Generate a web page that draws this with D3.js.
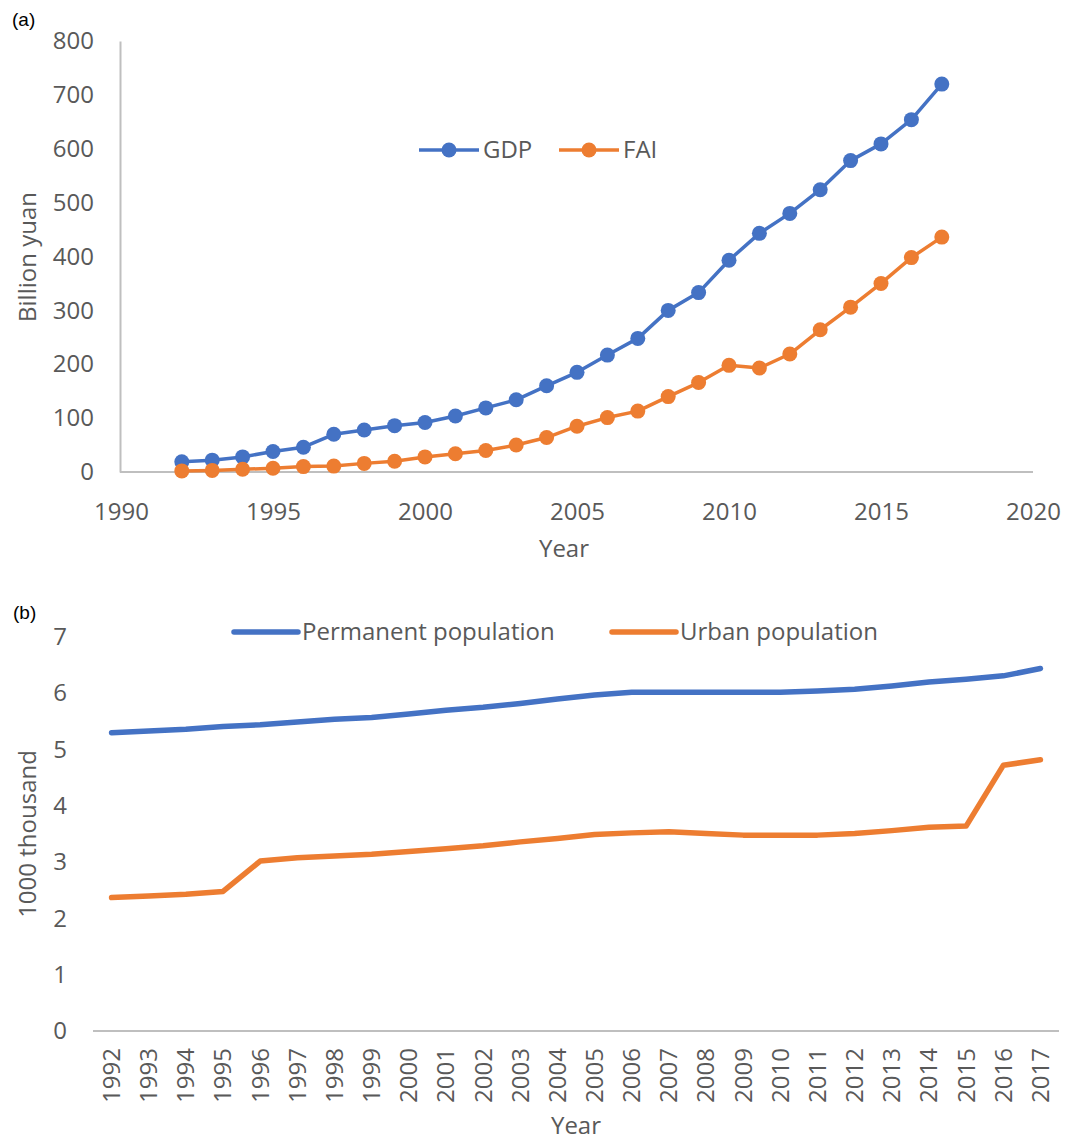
<!DOCTYPE html>
<html>
<head>
<meta charset="utf-8">
<script src="https://cdn.jsdelivr.net/npm/d3@7"></script>
<style>
  body { margin: 0; background: #fff; }
  text { font-family: "Open Sans", sans-serif; }
</style>
</head>
<body>
<div id="chart"></div>
<script>
// panel (a)
var yearsA = d3.range(1992, 2018);
var gdp = [19, 22, 28, 38, 46, 70, 78, 86, 92, 104, 119, 134, 160, 185, 217, 248, 300, 333, 393, 443, 480, 524, 578, 609, 654, 720];
var fai = [2, 3, 5, 7, 10, 11, 16, 20, 28, 34, 40, 50, 64, 85, 101, 113, 140, 166, 198, 193, 219, 264, 306, 350, 398, 436];
var xTicksA = [1990, 1995, 2000, 2005, 2010, 2015, 2020];
var yTicksA = [0, 100, 200, 300, 400, 500, 600, 700, 800];

// panel (b)
var yearsB = ['1992', '1993', '1994', '1995', '1996', '1997', '1998', '1999', '2000', '2001', '2002', '2003', '2004',
    '2005', '2006', '2007', '2008', '2009', '2010', '2011', '2012', '2013', '2014', '2015', '2016', '2017'];
var permanent = [5.30, 5.33, 5.36, 5.41, 5.44, 5.49, 5.54, 5.57, 5.63, 5.70, 5.75, 5.82, 5.90,
    5.97, 6.02, 6.02, 6.02, 6.02, 6.02, 6.04, 6.07, 6.13, 6.20, 6.25, 6.31, 6.44];
var urban = [2.37, 2.40, 2.43, 2.48, 3.02, 3.08, 3.11, 3.14, 3.19, 3.24, 3.29, 3.36, 3.42,
    3.49, 3.52, 3.54, 3.51, 3.48, 3.48, 3.48, 3.51, 3.56, 3.62, 3.64, 4.72, 4.82];
var yTicksB = [0, 1, 2, 3, 4, 5, 6, 7];

var blue = '#4472c4', orange = '#ed7d31', grey = '#595959', axisGrey = '#bfbfbf';

var svg = d3.select('#chart')
    .append('svg')
    .attr('width', 1068)
    .attr('height', 1145);

// ---------- (a) ----------
var xA = d3.scaleLinear().domain([1990, 2020]).range([121, 1033]);
var yA = d3.scaleLinear().domain([0, 800]).range([472, 41]);

svg.append('text').attr('x', 12).attr('y', 26)
    .style('font-family', 'Liberation Sans, Arial, sans-serif')
    .style('font-size', '19px').attr('fill', '#000').text('(a)');

var gxA = svg.append('g')
    .attr('transform', 'translate(0,472)')
    .call(d3.axisBottom(xA).tickValues(xTicksA).tickFormat(d3.format('d')).tickSize(0).tickPadding(31));
var gyA = svg.append('g')
    .attr('transform', 'translate(120,0)')
    .call(d3.axisLeft(yA).tickValues(yTicksA).tickSize(0).tickPadding(26));

[gxA, gyA].forEach(function(g) {
    g.select('.domain').attr('stroke', axisGrey).attr('stroke-width', 2);
    g.selectAll('text').attr('fill', grey).style('font-size', '24px');
});
gxA.select('.domain').attr('d', 'M120,0H1033');

var lineA = function(vals) {
    return d3.line()
        .x(function(d, i) { return xA(yearsA[i]); })
        .y(function(d) { return yA(d); })(vals);
};

[[gdp, blue], [fai, orange]].forEach(function(s) {
    svg.append('path')
        .attr('d', lineA(s[0]))
        .attr('fill', 'none')
        .attr('stroke', s[1])
        .attr('stroke-width', 3.5)
        .attr('stroke-linejoin', 'round');
    svg.append('g').selectAll('circle')
        .data(s[0])
        .enter()
        .append('circle')
        .attr('cx', function(d, i) { return xA(yearsA[i]); })
        .attr('cy', function(d) { return yA(d); })
        .attr('r', 7.5)
        .attr('fill', s[1]);
});

// legend (a)
var legA = [{name: 'GDP', color: blue, x: 419}, {name: 'FAI', color: orange, x: 559}];
legA.forEach(function(l) {
    var g = svg.append('g').attr('transform', 'translate(' + l.x + ',150)');
    g.append('line').attr('x1', 0).attr('x2', 60).attr('stroke', l.color).attr('stroke-width', 3.5);
    g.append('circle').attr('cx', 30).attr('r', 7.5).attr('fill', l.color);
    g.append('text').attr('x', 64).attr('dy', '0.35em')
        .attr('fill', grey).style('font-size', '24px').text(l.name);
});

svg.append('text')
    .attr('transform', 'translate(28,257) rotate(-90)')
    .attr('text-anchor', 'middle').attr('dy', '0.35em')
    .attr('fill', grey).style('font-size', '24px').text('Billion yuan');
svg.append('text')
    .attr('x', 564).attr('y', 549)
    .attr('text-anchor', 'middle').attr('dy', '0.35em')
    .attr('fill', grey).style('font-size', '24px').text('Year');

// ---------- (b) ----------
var xB = d3.scaleBand().domain(yearsB).range([93, 1059]).padding(0);
var yB = d3.scaleLinear().domain([0, 7]).range([1031, 637]);

svg.append('text').attr('x', 13).attr('y', 619)
    .style('font-family', 'Liberation Sans, Arial, sans-serif')
    .style('font-size', '19px').attr('fill', '#000').text('(b)');

var gxB = svg.append('g')
    .attr('transform', 'translate(0,1031)')
    .call(d3.axisBottom(xB).tickSize(0));
gxB.select('.domain').attr('stroke', axisGrey).attr('stroke-width', 2).attr('d', 'M93,0H1059');
gxB.selectAll('text')
    .attr('transform', 'rotate(-90)')
    .attr('text-anchor', 'end')
    .attr('x', -17)
    .attr('y', 0)
    .attr('dy', '0.35em')
    .attr('fill', grey)
    .style('font-size', '24px');

var gyB = svg.append('g')
    .attr('transform', 'translate(93,0)')
    .call(d3.axisLeft(yB).tickValues(yTicksB).tickFormat(d3.format('d')).tickSize(0).tickPadding(26));
gyB.select('.domain').remove();
gyB.selectAll('text').attr('fill', grey).style('font-size', '24px');

var lineB = d3.line()
    .x(function(d, i) { return xB(yearsB[i]) + xB.bandwidth() / 2; })
    .y(function(d) { return yB(d); });

[[permanent, blue], [urban, orange]].forEach(function(s) {
    svg.append('path')
        .attr('d', lineB(s[0]))
        .attr('fill', 'none')
        .attr('stroke', s[1])
        .attr('stroke-width', 5.5)
        .attr('stroke-linejoin', 'round')
        .attr('stroke-linecap', 'round');
});

// legend (b)
var legB = [{name: 'Permanent population', color: blue, x: 234}, {name: 'Urban population', color: orange, x: 612}];
legB.forEach(function(l) {
    var g = svg.append('g').attr('transform', 'translate(' + l.x + ',632)');
    g.append('line').attr('x1', 0).attr('x2', 64).attr('stroke', l.color)
        .attr('stroke-width', 5.5).attr('stroke-linecap', 'round');
    g.append('text').attr('x', 68).attr('dy', '0.35em')
        .attr('fill', grey).style('font-size', '24px').text(l.name);
});

svg.append('text')
    .attr('transform', 'translate(28,834) rotate(-90)')
    .attr('text-anchor', 'middle').attr('dy', '0.35em')
    .attr('fill', grey).style('font-size', '24px').text('1000 thousand');
svg.append('text')
    .attr('x', 576).attr('y', 1126)
    .attr('text-anchor', 'middle').attr('dy', '0.35em')
    .attr('fill', grey).style('font-size', '24px').text('Year');
</script>
</body>
</html>
